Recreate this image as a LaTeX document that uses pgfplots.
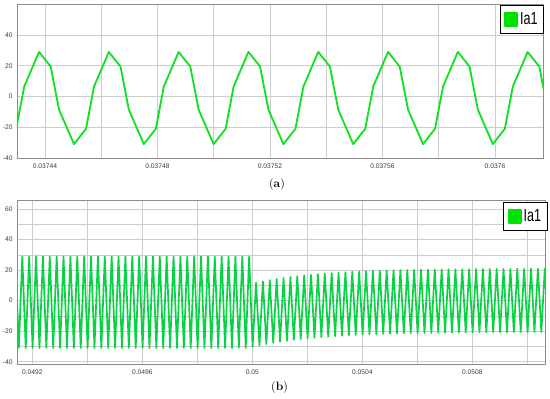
\documentclass[border=0pt]{standalone}
\usepackage{fontspec}
\usepackage{graphicx}
\usepackage{pgfplots}
\pgfplotsset{compat=1.18}
\newfontfamily\lsans{Liberation Sans}
\definecolor{wavea}{RGB}{15,225,30}
\definecolor{waveb}{RGB}{10,210,70}
\definecolor{leggreen}{RGB}{0,225,0}
\definecolor{gridc}{RGB}{205,205,205}
\definecolor{framec}{RGB}{140,140,140}
\definecolor{tickc}{RGB}{60,60,60}
\pgfplotsset{
  myaxis/.style={
    scale only axis, clip=true,
    axis line style={framec, line width=0.8pt},
    grid=major, major grid style={gridc, line width=0.7pt},
    major tick length=0pt,
    tick label style={font=\lsans\fontsize{6.7}{7}\selectfont, text=tickc},
    yticklabel style={anchor=east, inner sep=0pt, xshift=-4.3pt},
    xticklabel style={anchor=north, inner sep=0pt, yshift=-5.3pt},
    legend cell align=left,
    legend image code/.code={\fill[leggreen] (0pt,-6.5pt) rectangle (12pt,6.5pt);},
  },
  mylegend/.style={draw=black, line width=0.9pt, fill=white, inner xsep=4pt, inner ysep=5pt,
    font=\lsans\fontsize{17.5}{17.5}\selectfont, anchor=north east},
}
\begin{document}
\begin{tikzpicture}[x=1pt,y=1pt]
\path[use as bounding box] (0,0) rectangle (550,399);
% ---------------- panel (a)
\begin{axis}[myaxis, at={(17pt,241pt)}, anchor=south west,
  width=526pt, height=154pt,
  xmin=30.04, xmax=217.07, ymin=-40, ymax=60.2,
  xtick={40,60,...,200},
  xticklabels={0.03744,,0.03748,,0.03752,,0.03756,,0.0376},
  ytick={-40,-20,0,20,40}, yticklabels={-40,-20,0,20,40},
  legend style={mylegend, at={(rel axis cs:1,1)}, xshift=1pt, yshift=-1pt}]
\addplot[wavea, line width=1.8pt, line join=round] coordinates {
(25.49,-31) (29.76,-21) (32.61,6.5)
(37.87,29) (42.02,19.5) (44.98,-8.5) (50.31,-31) (54.58,-21) (57.43,6.5)
(62.69,29) (66.84,19.5) (69.80,-8.5) (75.13,-31) (79.40,-21) (82.25,6.5)
(87.51,29) (91.66,19.5) (94.62,-8.5) (99.95,-31) (104.22,-21) (107.07,6.5)
(112.33,29) (116.48,19.5) (119.44,-8.5) (124.77,-31) (129.04,-21) (131.89,6.5)
(137.15,29) (141.30,19.5) (144.26,-8.5) (149.59,-31) (153.86,-21) (156.71,6.5)
(161.97,29) (166.12,19.5) (169.08,-8.5) (174.41,-31) (178.68,-21) (181.53,6.5)
(186.79,29) (190.94,19.5) (193.90,-8.5) (199.23,-31) (203.50,-21) (206.35,6.5)
(211.61,29) (215.76,19.5) (218.72,-8.5) (224.05,-31)
};
\addlegendentry{\scalebox{0.72}[1]{Ia1}\hspace{5pt}}
\node[font=\lsans\fontsize{5.5}{6}\selectfont, text=tickc] at (rel axis cs:0,1) [xshift=-7.7pt, yshift=-1pt] {A};
\node[font=\lsans\fontsize{6.7}{7}\selectfont, text=tickc] at (rel axis cs:1,0) [xshift=-2.2pt, yshift=-7.8pt] {t/s};
\end{axis}
% ---------------- panel (b)
\begin{axis}[myaxis, at={(17pt,35pt)}, anchor=south west,
  width=528pt, height=164pt,
  xmin=144.4, xmax=2064.4, ymin=-41.5, ymax=66,
  xtick={200,400,...,2000},
  xticklabels={0.0492,,0.0496,,0.05,,0.0504,,0.0508,},
  ytick={-40,-30,...,60}, yticklabels={-40,,-20,,0,,20,,40,,60},
  legend style={mylegend, at={(rel axis cs:1,1)}, xshift=2.5pt, yshift=-2.3pt}]
\addplot[waveb, line width=1.7pt, line join=round] coordinates {
(138.6,29) (151.1,-31) (163.6,29) (176.1,-31) (188.6,29) (201.1,-31) (213.6,29) (226.1,-31)
(238.6,29) (251.1,-31) (263.6,29) (276.1,-31) (288.6,29) (301.1,-31) (313.6,29) (326.1,-31)
(338.6,29) (351.1,-31) (363.6,29) (376.1,-31) (388.6,29) (401.1,-31) (413.6,29) (426.1,-31)
(438.6,29) (451.1,-31) (463.6,29) (476.1,-31) (488.6,29) (501.1,-31) (513.6,29) (526.1,-31)
(538.6,29) (551.1,-31) (563.6,29) (576.1,-31) (588.6,29) (601.1,-31) (613.6,29) (626.1,-31)
(638.6,29) (651.1,-31) (663.6,29) (676.1,-31) (688.6,29) (701.1,-31) (713.6,29) (726.1,-31)
(738.6,29) (751.1,-31) (763.6,29) (776.1,-31) (788.6,29) (801.1,-31) (813.6,29) (826.1,-31)
(838.6,29) (851.1,-31) (863.6,29) (876.1,-31) (888.6,29) (901.1,-31) (913.6,29) (926.1,-31)
(938.6,29) (951.1,-31) (963.6,29) (976.1,-31) (988.6,29)
(1001.1,-30.30) (1013.6,11.70) (1026.1,-29.32) (1038.6,12.64) (1051.1,-28.43) (1063.6,13.49)
(1076.1,-27.63) (1088.6,14.24) (1101.1,-26.91) (1113.6,14.93) (1126.1,-26.26) (1138.6,15.54)
(1151.1,-25.68) (1163.6,16.09) (1176.1,-25.15) (1188.6,16.59) (1201.1,-24.68) (1213.6,17.04)
(1226.1,-24.25) (1238.6,17.44) (1251.1,-23.87) (1263.6,17.80) (1276.1,-23.53) (1288.6,18.13)
(1301.1,-23.22) (1313.6,18.42) (1326.1,-22.94) (1338.6,18.69) (1351.1,-22.69) (1363.6,18.92)
(1376.1,-22.47) (1388.6,19.14) (1401.1,-22.27) (1413.6,19.33) (1426.1,-22.08) (1438.6,19.50)
(1451.1,-21.92) (1463.6,19.66) (1476.1,-21.77) (1488.6,19.80) (1501.1,-21.64) (1513.6,19.92)
(1526.1,-21.52) (1538.6,20.04) (1551.1,-21.41) (1563.6,20.14) (1576.1,-21.32) (1588.6,20.23)
(1601.1,-21.23) (1613.6,20.31) (1626.1,-21.15) (1638.6,20.39) (1651.1,-21.08) (1663.6,20.45)
(1676.1,-21.02) (1688.6,20.51) (1701.1,-20.96) (1713.6,20.57) (1726.1,-20.91) (1738.6,20.61)
(1751.1,-20.86) (1763.6,20.66) (1776.1,-20.82) (1788.6,20.70) (1801.1,-20.78) (1813.6,20.73)
(1826.1,-20.75) (1838.6,20.77) (1851.1,-20.72) (1863.6,20.79) (1876.1,-20.69) (1888.6,20.82)
(1901.1,-20.67) (1913.6,20.84) (1926.1,-20.65) (1938.6,20.86) (1951.1,-20.63) (1963.6,20.88)
(1976.1,-20.61) (1988.6,20.90) (2001.1,-20.59) (2013.6,20.91) (2026.1,-20.58) (2038.6,20.93)
(2051.1,-20.57) (2063.6,20.94) (2076.1,-20.56)
};
\addlegendentry{\scalebox{0.72}[1]{Ia1}\hspace{5pt}}
\node[font=\lsans\fontsize{5.5}{6}\selectfont, text=tickc] at (rel axis cs:0,1) [xshift=-7.7pt, yshift=-1.7pt] {A};
\node[font=\lsans\fontsize{6.7}{7}\selectfont, text=tickc] at (rel axis cs:1,0) [xshift=-9.2pt, yshift=-5.5pt] {t/s};
\end{axis}
\node[font=\fontsize{12}{14}\selectfont] at (277,214) {(\textbf{a})};
\node[font=\fontsize{12}{14}\selectfont] at (279.5,11) {(\textbf{b})};
\end{tikzpicture}
\end{document}
